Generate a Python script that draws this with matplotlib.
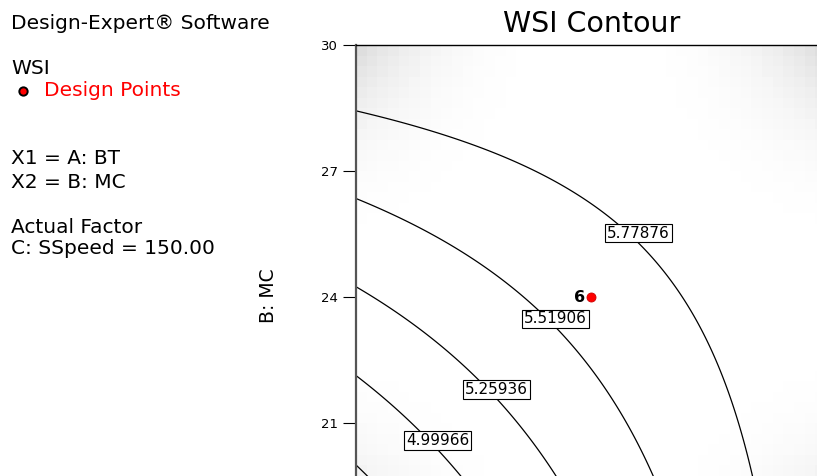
import numpy as np
import matplotlib
matplotlib.use("Agg")
import matplotlib.pyplot as plt
from matplotlib.lines import Line2D

# ---- data ----
# quadratic response model for WSI in coded units (A: BT, B: MC), C fixed at 150
coef_names = ["b0", "bA", "bB", "bAA", "bBB", "bAB"]
coef_vals = [5.63109, 0.38616, 0.39580, -0.01565, 0.00690, -0.34290]
bt_range = [100.0, 140.0]          # A: BT (low, high)
mc_range = [18.0, 30.0]            # B: MC (low, high)
contour_levels = [4.73996, 4.99966, 5.25936, 5.51906, 5.77876]
label_levels = ["4.99966", "5.25936", "5.51906", "5.77876"]
label_bt = [106.94, 111.94, 117.00, 124.06]
label_mc = [20.58, 21.79, 23.48, 25.52]
design_bt = [120.0]
design_mc = [24.0]
design_reps = ["6"]
yticks = [21, 24, 27, 30]

fig = plt.figure(figsize=(8.17, 4.76), dpi=100)
W, H = 817.0, 476.0
ax = fig.add_axes([356 / W, 1 - 549 / H, 470 / W, 504 / H])

# model surface
bt = np.linspace(bt_range[0], bt_range[1], 300)
mc = np.linspace(mc_range[0], mc_range[1], 300)
BT, MC = np.meshgrid(bt, mc)
a = (BT - np.mean(bt_range)) / ((bt_range[1] - bt_range[0]) / 2)
b = (MC - np.mean(mc_range)) / ((mc_range[1] - mc_range[0]) / 2)
c = dict(zip(coef_names, coef_vals))
Z = c["b0"] + c["bA"] * a + c["bB"] * b + c["bAA"] * a ** 2 + c["bBB"] * b ** 2 + c["bAB"] * a * b

# shaded background (corner vignette, blocky like the original)
gu = np.linspace(-1, 1, 44)
gv = np.linspace(-1, 1, 48)
GU, GV = np.meshgrid(gu, gv)
shade = 1 - 0.13 * (np.abs(GU) * np.abs(GV)) ** 3
ax.imshow(shade, cmap="gray", vmin=0, vmax=1, interpolation="nearest", aspect="auto",
          extent=[bt_range[0], bt_range[1], mc_range[0], mc_range[1]], origin="lower", zorder=0)

ax.contour(BT, MC, Z, levels=contour_levels, colors="black", linewidths=0.9, zorder=2)

for txt, xb, ym in zip(label_levels, label_bt, label_mc):
    ax.text(xb, ym, txt, ha="center", va="center", fontsize=11, zorder=4,
            bbox=dict(boxstyle="square,pad=0.12", fc="white", ec="black", lw=0.8))

ax.plot(design_bt, design_mc, "o", ms=6.5, mfc="#ff0000", mec="#cc0000", mew=0.6, zorder=5)
for xb, ym, r in zip(design_bt, design_mc, design_reps):
    ax.annotate(r, (xb, ym), xytext=(-4.5, 0), textcoords="offset points", ha="right",
                va="center", fontsize=11.5, fontweight="bold", zorder=5)

ax.set_xlim(bt_range)
ax.set_ylim(mc_range)
ax.set_xticks([])
ax.set_yticks(yticks)
ax.set_yticklabels([str(t) for t in yticks])
ax.tick_params(axis="y", length=9.5, width=0.8, pad=3.5, labelsize=9.5, colors="black")
for s in ["right", "bottom"]:
    ax.spines[s].set_visible(False)
ax.spines["left"].set_color("#555555")
ax.spines["left"].set_linewidth(1.6)
ax.spines["top"].set_color("black")
ax.spines["top"].set_linewidth(1.0)

def fx(px):
    return px / W

def fy(py):
    return 1 - py / H

# title and axis label
fig.text(fx(591.5), fy(31.7), "WSI Contour", ha="center", va="baseline", fontsize=20.5)
fig.text(fx(268.5), fy(295.5), "B: MC", ha="center", va="center", rotation=90, fontsize=13.5)

# side panel
fs = 14.5
fig.text(fx(11), fy(29.3), "Design-Expert\u00ae Software", fontsize=fs, va="baseline")
fig.text(fx(11), fy(74), "WSI", fontsize=fs, va="baseline")
fig.add_artist(Line2D([fx(22.7)], [fy(90.5)], marker="o", ms=6, mfc="#ff0000", mec="black",
                      mew=1.4, transform=fig.transFigure))
fig.text(fx(44), fy(96), "Design Points", fontsize=fs, va="baseline", color="#ff0000")
fig.text(fx(11), fy(164), "X1 = A: BT", fontsize=fs, va="baseline")
fig.text(fx(11), fy(188), "X2 = B: MC", fontsize=fs, va="baseline")
fig.text(fx(11), fy(233), "Actual Factor", fontsize=fs, va="baseline")
fig.text(fx(11), fy(254), "C: SSpeed = 150.00", fontsize=fs, va="baseline")

fig.savefig("out.png", dpi=100)
